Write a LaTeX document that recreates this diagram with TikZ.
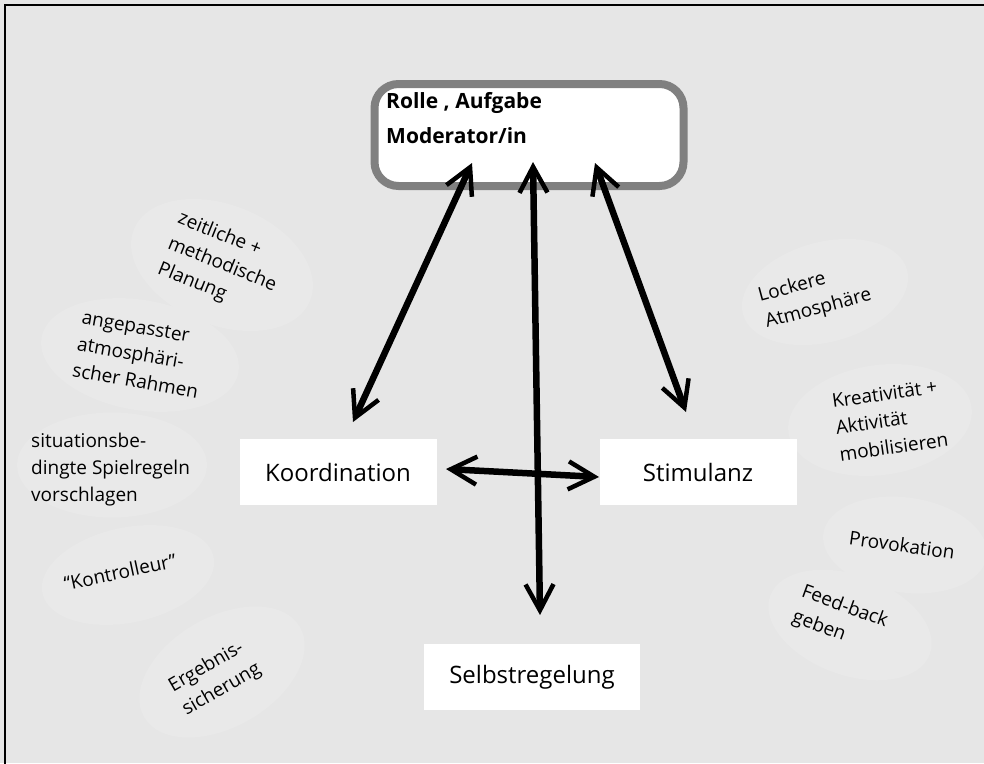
\documentclass[tikz,border=0pt]{standalone}
\usepackage{fontspec}
\setmainfont{Open Sans}
\usetikzlibrary{arrows.meta,shapes.geometric}
\definecolor{bgc}{HTML}{E6E6E6}
\definecolor{blobc}{HTML}{E9E9E9}
\definecolor{rimc}{HTML}{808080}
\begin{document}
\begin{tikzpicture}[x=1pt,y=-1pt,
  lbl/.style={font=\fontsize{19}{27}\selectfont, align=left, inner sep=0pt},
  blobn/.style={ellipse, fill=blobc, inner sep=0pt},
  concept/.style={fill=white, minimum width=197pt, minimum height=66pt, inner sep=0pt,
    font=\fontsize{24}{26}\selectfont},
  tipx/.tip={Straight Barb[length=26pt,width=28pt,line width=4.5pt 0]},
  link/.style={line width=6.5pt, {tipx}-{tipx}},
]
\useasboundingbox (0,0) rectangle (984,763);
\fill[bgc] (0,0) rectangle (984,763);
\draw[line width=2.5pt] (5,770) -- (5,5) -- (990,5);

% blobs
\node[blobn, minimum width=190pt, minimum height=120pt, rotate=-22] (b1) at (222,265) {};
\node[blobn, minimum width=200pt, minimum height=110pt, rotate=-10] (b2) at (140,355) {};
\node[blobn, minimum width=190pt, minimum height=105pt] (b3) at (112,465) {};
\node[blobn, minimum width=175pt, minimum height=95pt, rotate=12] (b4) at (128,575) {};
\node[blobn, minimum width=180pt, minimum height=110pt, rotate=30] (b5) at (222,672) {};
\node[blobn, minimum width=170pt, minimum height=100pt, rotate=15] (b6) at (825,292) {};
\node[blobn, minimum width=185pt, minimum height=110pt, rotate=8] (b7) at (880,420) {};
\node[blobn, minimum width=165pt, minimum height=95pt, rotate=-8] (b8) at (905,545) {};
\node[blobn, minimum width=170pt, minimum height=100pt, rotate=-20] (b9) at (850,625) {};

% main nodes
\node[draw=rimc, line width=8pt, rounded corners=24pt, fill=white,
  minimum width=309pt, minimum height=102pt] (top) at (529,135) {};
\node[font=\bfseries\fontsize{21}{35}\selectfont, align=left, anchor=north west, inner sep=0pt]
  (toptext) at (386,92) {Rolle , Aufgabe\\Moderator/in};
\node[concept] (koord) at (338,472) {Koordination};
\node[concept] (stim) at (698,472) {Stimulanz};
\node[concept, minimum width=216pt] (selbst) at (532,677) {Selbstregelung};

% connectors
\coordinate (t1) at (472,163);
\coordinate (k1) at (353,422);
\coordinate (t2) at (533,162);
\coordinate (s1) at (540,615);
\coordinate (t3) at (595,163);
\coordinate (m1) at (686,412);
\coordinate (k2) at (446,469);
\coordinate (m2) at (599,477);
\draw[link] (t1) -- (k1);
\draw[link] (t3) -- (m1);
\draw[link] (t2) -- (s1);
\draw[link] (k2) -- (m2);

% labels
\node[lbl, rotate=-22] (l1) at (b1) {zeitliche +\\methodische\\Planung};
\node[lbl, rotate=-10] (l2) at (b2) {angepasster\\atmosphäri-\\scher Rahmen};
\node[lbl, anchor=west] (l3) at (31,470) {situationsbe-\\dingte Spielregeln\\vorschlagen};
\node[lbl, rotate=12] (l4) at (120,572) {“Kontrolleur”};
\node[lbl, rotate=30] (l5) at (215,678) {Ergebnis-\\sicherung};
\node[lbl, rotate=15] (l6) at (815,296) {Lockere\\Atmosphäre};
\node[lbl, rotate=8] (l7) at (890,420) {Kreativität +\\Aktivität\\mobilisieren};
\node[lbl, rotate=-8] (l8) at (902,545) {Provokation};
\node[lbl, rotate=-20] (l9) at (840,620) {Feed-back\\geben};
\end{tikzpicture}
\end{document}
